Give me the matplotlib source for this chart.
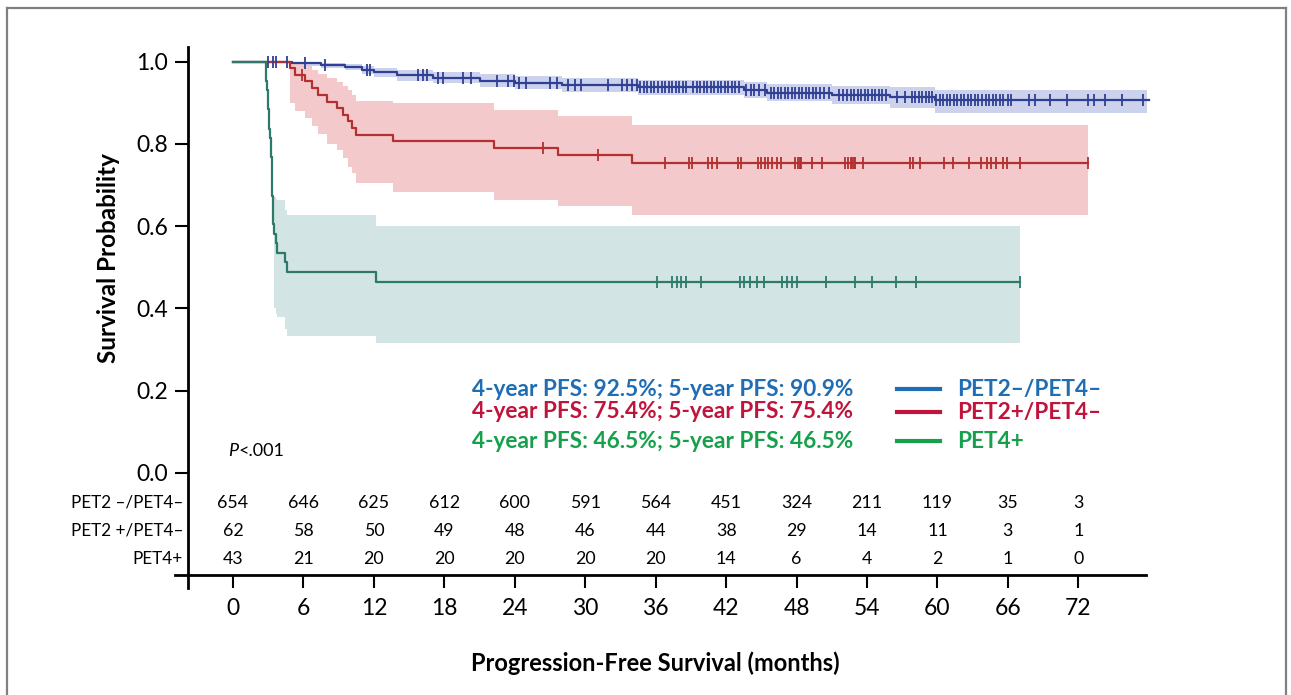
import numpy as np
import matplotlib
matplotlib.use("Agg")
import matplotlib.pyplot as plt
from matplotlib.lines import Line2D

plt.rcParams['font.family'] = ['Lato', 'DejaVu Sans']

# ---------------- data ----------------
months = [0, 6, 12, 18, 24, 30, 36, 42, 48, 54, 60, 66, 72]
risk_labels = ['PET2 \u2013/PET4\u2013', 'PET2 +/PET4\u2013', 'PET4+']
risk_neg = [654, 646, 625, 612, 600, 591, 564, 451, 324, 211, 119, 35, 3]
risk_pos = [62, 58, 50, 49, 48, 46, 44, 38, 29, 14, 11, 3, 1]
risk_pet4 = [43, 21, 20, 20, 20, 20, 20, 14, 6, 4, 2, 1, 0]

# PET2-/PET4- (blue)
blue_t = [0, 5.0, 7.5, 9.5, 11.0, 12.0, 14.0, 17.0, 21.0, 24.0, 28.0, 34.5, 43.5, 45.5, 51.0, 56.0, 59.8]
blue_s = [1.0, 0.996, 0.992, 0.988, 0.981, 0.974, 0.967, 0.961, 0.954, 0.949, 0.944, 0.938, 0.931, 0.925, 0.920, 0.914, 0.908]
blue_lo = [1.0, 0.990, 0.985, 0.980, 0.971, 0.962, 0.954, 0.947, 0.939, 0.933, 0.927, 0.920, 0.912, 0.905, 0.898, 0.888, 0.876]
blue_hi = [1.0, 1.0, 0.998, 0.995, 0.990, 0.985, 0.980, 0.975, 0.969, 0.965, 0.961, 0.956, 0.950, 0.945, 0.942, 0.938, 0.932]
blue_end = 78.0
blue_cens = [3.0, 3.4, 3.7, 4.6, 6.1, 7.8, 11.4, 11.7, 15.8, 16.2, 16.5, 17.5, 17.9, 19.6, 20.3,
             22.5, 23.4, 23.9, 24.4, 25.0, 27.0, 27.6, 28.5, 29.1, 29.6, 31.9, 33.1, 33.6, 34.0,
             34.4, 34.7, 35.0, 35.3, 35.6, 35.9, 36.2, 36.5, 36.8, 37.1, 37.4, 37.7, 38.0, 38.3, 38.6,
             39.2, 39.5, 39.8, 40.1, 40.4, 40.7, 41.0, 41.3, 41.6, 41.9, 42.2, 42.5, 42.8, 43.1,
             43.7, 44.1, 44.4, 44.8, 45.3, 45.8, 46.1, 46.4, 46.7, 47.0, 47.3, 47.6, 47.9, 48.2,
             48.5, 48.8, 49.1, 49.4, 49.7, 50.0, 50.3, 50.8, 51.6, 52.0, 52.3, 52.6, 52.9, 53.2,
             53.5, 53.8, 54.1, 54.4, 54.7, 55.0, 55.3, 55.6, 56.6, 57.2, 57.8, 58.1, 58.4, 58.7,
             59.0, 59.3, 59.5, 59.9, 60.2, 60.5, 60.8, 61.1, 61.4, 61.7, 62.0, 62.3, 62.6, 62.9,
             63.2, 63.5, 63.8, 64.1, 64.4, 64.7, 65.0, 65.3, 65.6, 66.0, 66.3, 67.8, 68.3, 69.6,
             71.0, 72.8, 73.3, 74.3, 75.7, 77.5]

# PET2+/PET4- (red)
red_t = [0, 4.86, 5.3, 6.1, 6.7, 7.2, 8.0, 8.9, 9.4, 9.8, 10.1, 10.5, 13.6, 22.2, 27.7, 34.0]
red_s = [1.0, 0.984, 0.968, 0.952, 0.935, 0.919, 0.903, 0.887, 0.871, 0.855, 0.839, 0.822, 0.806, 0.789, 0.772, 0.754]
red_lo = [1.0, 0.900, 0.880, 0.862, 0.843, 0.825, 0.800, 0.786, 0.765, 0.745, 0.730, 0.705, 0.684, 0.664, 0.648, 0.628]
red_hi = [1.0, 0.998, 0.995, 0.990, 0.980, 0.970, 0.960, 0.950, 0.940, 0.930, 0.920, 0.905, 0.900, 0.883, 0.867, 0.846]
red_end = 72.8
red_cens = [5.85, 26.4, 31.1, 36.8, 38.8, 39.1, 40.5, 40.8, 41.2, 43.0, 43.3, 44.7, 45.0, 45.3,
            45.6, 45.9, 46.3, 46.7, 47.9, 48.1, 48.3, 48.4, 49.3, 50.2, 52.1, 52.4, 52.6, 52.7,
            52.9, 53.0, 53.7, 57.7, 57.9, 58.5, 60.6, 61.3, 62.7, 63.7, 64.2, 64.6, 65.0, 65.6,
            65.9, 67.0, 72.8]

# PET4+ (green)
green_t = [0, 2.8, 2.85, 2.9, 2.95, 3.0, 3.05, 3.1, 3.15, 3.2, 3.25, 3.3, 3.32, 3.34, 3.36,
           3.38, 3.4, 3.42, 3.45, 3.7, 3.75, 4.4, 4.6, 12.2]
green_s = [1.0, 0.977, 0.953, 0.930, 0.907, 0.884, 0.860, 0.837, 0.814, 0.791, 0.767, 0.744,
           0.721, 0.698, 0.674, 0.651, 0.628, 0.605, 0.581, 0.558, 0.535, 0.512, 0.488, 0.465]
green_lo = [1.0, 0.977, 0.953, 0.930, 0.907, 0.884, 0.860, 0.837, 0.814, 0.791, 0.767, 0.744,
            0.721, 0.698, 0.674, 0.651, 0.628, 0.605, 0.400, 0.385, 0.380, 0.350, 0.332, 0.316]
green_hi = [1.0, 0.977, 0.953, 0.930, 0.907, 0.884, 0.860, 0.837, 0.814, 0.791, 0.767, 0.744,
            0.721, 0.698, 0.674, 0.651, 0.628, 0.605, 0.670, 0.666, 0.664, 0.640, 0.628, 0.600]
green_end = 67.0
green_cens = [36.1, 37.4, 37.8, 38.2, 38.6, 39.9, 43.2, 43.5, 44.0, 44.6, 45.2, 46.8, 47.2,
              47.6, 48.0, 50.5, 53.0, 54.4, 56.5, 58.2, 67.0]

stat_texts = ['4-year PFS: 92.5%; 5-year PFS: 90.9%',
              '4-year PFS: 75.4%; 5-year PFS: 75.4%',
              '4-year PFS: 46.5%; 5-year PFS: 46.5%']
group_names = ['PET2\u2013/PET4\u2013', 'PET2+/PET4\u2013', 'PET4+']

# ---------------- layout helpers (pixels) ----------------
W, H = 1291, 695
X0, PXM = 233.0, 11.74       # px of month 0, px per month
Y1, PXU = 61.7, 411.0        # px of survival 1.0, px per unit


def t_of(px):
    return (px - X0) / PXM


def v_of(py):
    return 1 - (py - Y1) / PXU


fig = plt.figure(figsize=(W / 100, H / 100), dpi=100)
ax_l, ax_r, ax_t, ax_b = 175, 1146, 47, 575
ax = fig.add_axes([ax_l / W, 1 - ax_b / H, (ax_r - ax_l) / W, (ax_b - ax_t) / H])
ax.set_xlim(t_of(ax_l), t_of(ax_r))
ax.set_ylim(v_of(ax_b), v_of(ax_t))
for s in ['top', 'right', 'left']:
    ax.spines[s].set_visible(False)
ax.spines['bottom'].set_linewidth(2.0)
ax.spines['left'].set_position(('data', t_of(188)))
ax.patch.set_visible(False)

ax.set_xticks(months)
ax.set_xticklabels([str(m) for m in months], fontsize=16.5)
ax.tick_params(axis='x', direction='out', length=9.5, width=1.5, pad=7)
ax.set_yticks([0, 0.2, 0.4, 0.6, 0.8, 1.0])
ax.set_yticklabels(['0.0', '0.2', '0.4', '0.6', '0.8', '1.0'], fontsize=16.5)
ax.tick_params(axis='y', direction='out', length=9.5, width=1.5, pad=5)

# y-axis line extending below the x axis
ax.plot([t_of(188), t_of(188)], [v_of(588), v_of(ax_t)], color='black', lw=2.0, clip_on=False)


def km(t, s, lo, hi, end, cens, lc, bc):
    t = np.asarray(t, float)
    s = np.asarray(s, float)
    tt = np.r_[t, end]
    ax.fill_between(tt, np.r_[lo, lo[-1]], np.r_[hi, hi[-1]], step='post', color=bc, lw=0, zorder=1)
    ax.step(tt, np.r_[s, s[-1]], where='post', color=lc, lw=1.6, zorder=3, clip_on=False)
    c = np.asarray(cens, float)
    idx = np.searchsorted(t, c, side='right') - 1
    ax.plot(c, s[idx], ls='none', marker='|', ms=9, mew=1.3, color=lc, zorder=4, clip_on=False)


km(blue_t, blue_s, blue_lo, blue_hi, blue_end, blue_cens, '#2f3f94', '#ccd2ec')
km(red_t, red_s, red_lo, red_hi, red_end, red_cens, '#b2302f', '#f4c9cc')
km(green_t, green_s, green_lo, green_hi, green_end, green_cens, '#2d7a6a', '#d2e4e4')

# risk table
rows = [risk_neg, risk_pos, risk_pet4]
row_py = [503, 531, 559]
for lab, vals, py in zip(risk_labels, rows, row_py):
    ax.text(t_of(183), v_of(py), lab, ha='right', va='center', fontsize=12.3)
    for m, n in zip(months, vals):
        ax.text(m, v_of(py), str(n), ha='center', va='center', fontsize=12.8)


def ft(xp, yp, s, **kw):
    fig.text(xp / W, 1 - yp / H, s, **kw)


ft(228, 451, 'P', style='italic', fontsize=13, va='center', ha='left')
ft(238, 451, '<.001', fontsize=13, va='center', ha='left')

ft(108, 258, 'Survival Probability', rotation=90, fontsize=17.5, fontweight='bold', ha='center', va='center')
ft(655, 663, 'Progression-Free Survival (months)', fontsize=17, fontweight='bold', ha='center', va='center')

text_cols = ['#1f6db4', '#c0143c', '#16a04c']
leg_py = [389, 412, 441]
for txt, name, col, py in zip(stat_texts, group_names, text_cols, leg_py):
    ft(472, py, txt, color=col, fontsize=16.3, fontweight='bold', ha='left', va='center')
    fig.add_artist(Line2D([897 / W, 940 / W], [1 - py / H] * 2, color=col, lw=3))
    ft(957, py, name, color=col, fontsize=16.3, fontweight='bold', ha='left', va='center')

# outer frame
fc = '#808080'
fig.add_artist(Line2D([7 / W, 7 / W], [0, 1 - 8 / H], color=fc, lw=1.6))
fig.add_artist(Line2D([7 / W, 1286 / W], [1 - 8 / H] * 2, color=fc, lw=1.6))
fig.add_artist(Line2D([1286 / W, 1286 / W], [0, 1 - 8 / H], color=fc, lw=1.6))

fig.savefig('out.png', dpi=100)
